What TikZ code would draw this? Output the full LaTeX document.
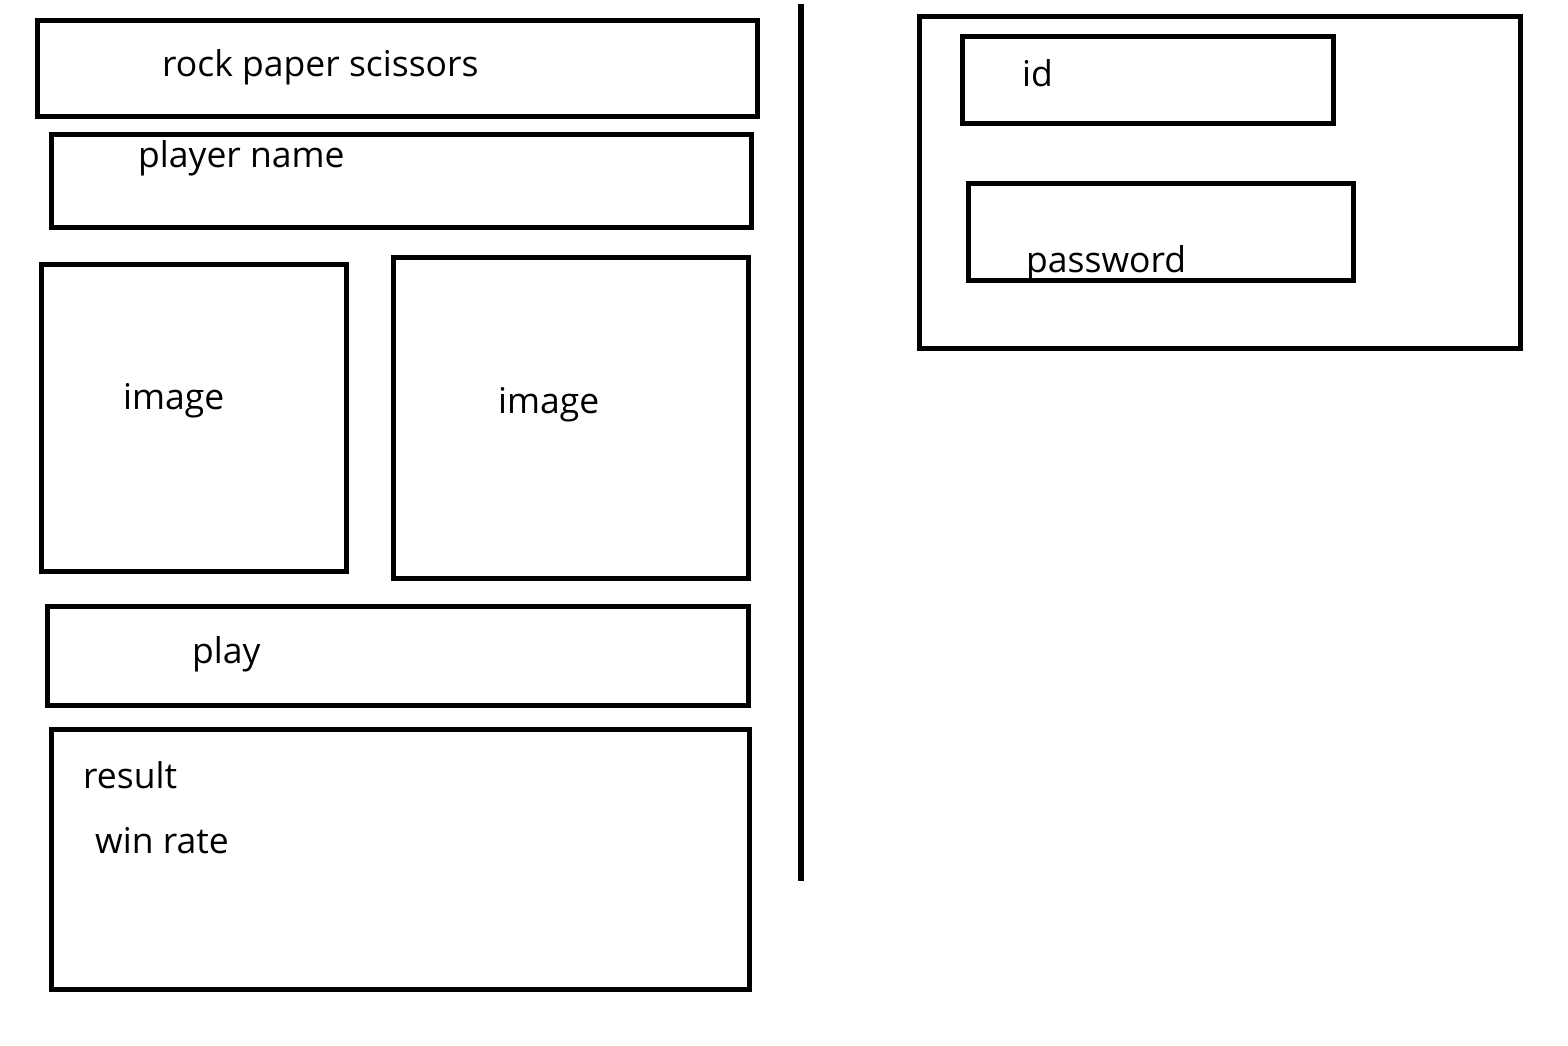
\documentclass[tikz,border=0pt]{standalone}
\usepackage{fontspec}
\setmainfont{Open Sans}
\begin{document}
\begin{tikzpicture}[x=1pt,y=-1pt,
  box/.style={draw=black,line width=5pt},
  lbl/.style={anchor=base west,inner sep=0pt,font=\fontsize{35.5}{40}\selectfont}]
\useasboundingbox (0,0) rectangle (1568,1046);
\draw[box] (37,21) rectangle (757,117);
\draw[box] (51,135) rectangle (751,227);
\draw[box] (41,264) rectangle (346,571);
\draw[box] (393,257) rectangle (748,578);
\draw[box] (47,606) rectangle (748,705);
\draw[box] (51,729) rectangle (749,989);
\draw[line width=6pt] (801,4) -- (801,881);
\draw[box] (919,17) rectangle (1520,348);
\draw[box] (962,37) rectangle (1333,124);
\draw[box] (968,183) rectangle (1353,280);
\node[lbl] (t1) at (162,77) {rock paper scissors};
\node[lbl] (t2) at (138,167) {player name};
\node[lbl] (t3) at (123,409) {image};
\node[lbl] (t4) at (498,413) {image};
\node[lbl] (t5) at (192,663) {play};
\node[lbl] (t6) at (83,788) {result};
\node[lbl] (t7) at (95,853) {win rate};
\node[lbl] (t8) at (1022,87) {id};
\node[lbl] (t9) at (1026,272) {password};
\end{tikzpicture}
\end{document}
